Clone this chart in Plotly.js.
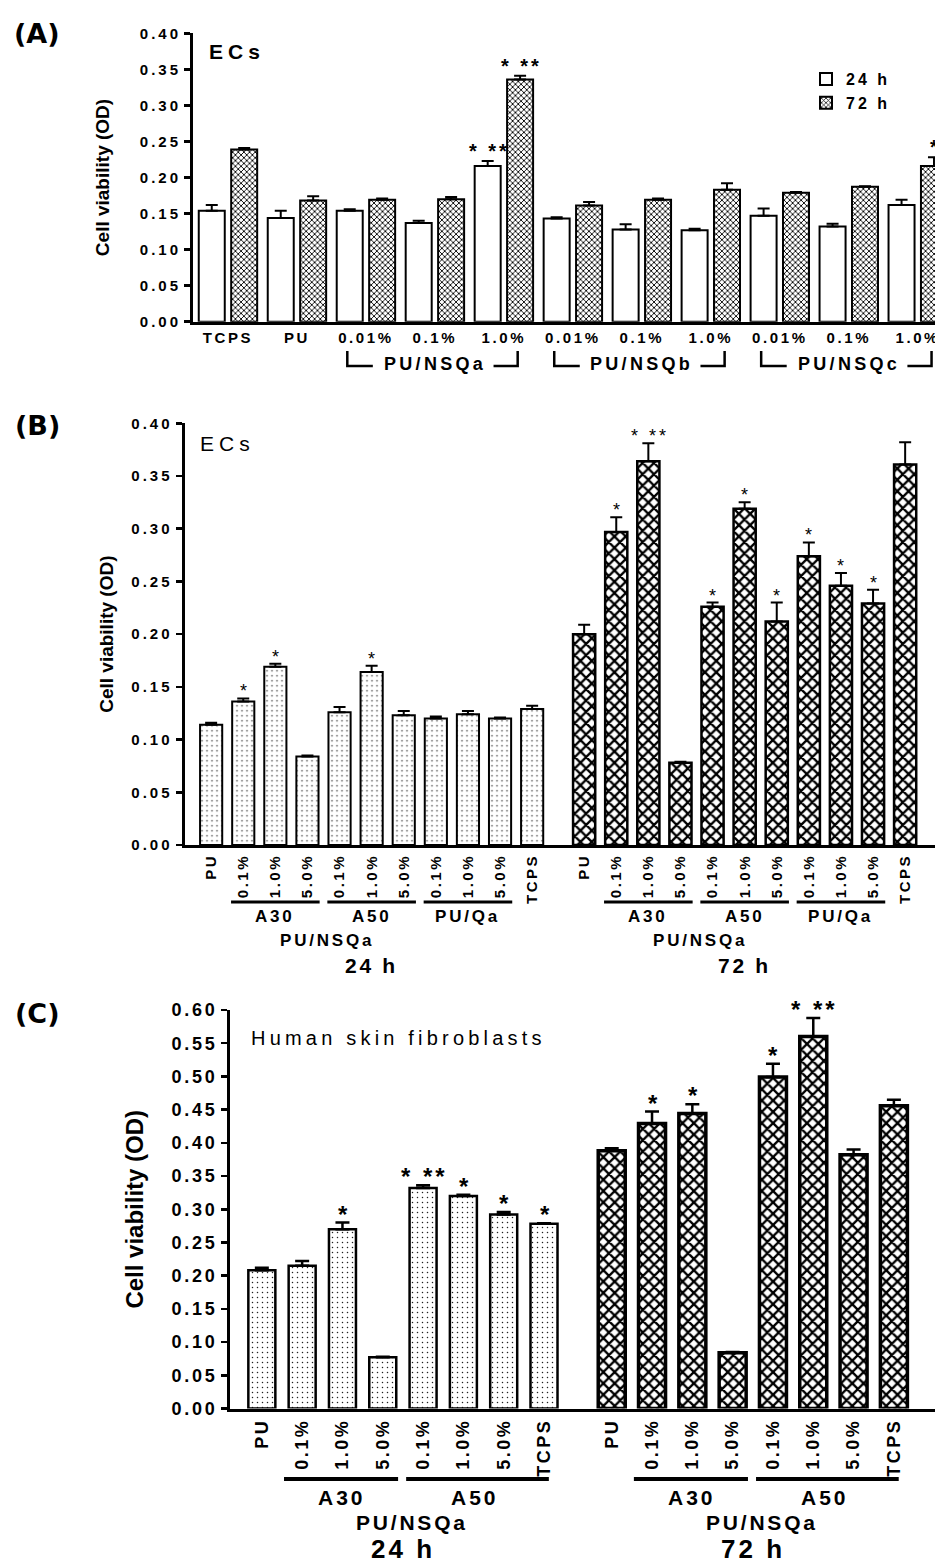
<!DOCTYPE html>
<html><head><meta charset="utf-8">
<script src="https://cdn.plot.ly/plotly-3.0.1.min.js"></script>
<style>html,body{margin:0;padding:0;background:#fff}</style>
</head><body>
<div id="chart" style="width:935px;height:1567px"></div>
<script>
// ---------------- Panel A data ----------------
const aCategories = ["TCPS","PU","0.01%","0.1%","1.0%","0.01%","0.1%","1.0%","0.01%","0.1%","1.0%"];
const aBrackets = ["PU/NSQa","PU/NSQb","PU/NSQc"];
const a24 = [0.154,0.144,0.154,0.137,0.216,0.143,0.128,0.127,0.147,0.132,0.162];
const a24Err = [0.008,0.010,0.002,0.003,0.007,0.002,0.007,0.002,0.010,0.004,0.007];
const a72 = [0.239,0.168,0.169,0.170,0.336,0.161,0.169,0.183,0.179,0.187,0.216];
const a72Err = [0.002,0.006,0.002,0.003,0.005,0.005,0.002,0.009,0.001,0.001,0.012];
const a24Stars = ["","","","","* **","","","","","",""];
const a72Stars = ["","","","","* **","","","","","","*"];
const yTicksAB = ["0.00","0.05","0.10","0.15","0.20","0.25","0.30","0.35","0.40"];

// ---------------- Panel B data ----------------
const bLabels = ["PU","0.1%","1.0%","5.0%","0.1%","1.0%","5.0%","0.1%","1.0%","5.0%","TCPS"];
const bSubgroups = ["A30","A50","PU/Qa"];
const b24 = [0.114,0.136,0.169,0.084,0.126,0.164,0.123,0.120,0.124,0.120,0.129];
const b24Err = [0.002,0.003,0.003,0.001,0.005,0.006,0.004,0.002,0.003,0.001,0.003];
const b72 = [0.200,0.297,0.364,0.078,0.226,0.319,0.212,0.274,0.246,0.229,0.361];
const b72Err = [0.009,0.014,0.017,0.001,0.004,0.006,0.018,0.013,0.012,0.013,0.021];
const b24Stars = ["","*","*","","","*","","","","",""];
const b72Stars = ["","*","* **","","*","*","*","*","*","*",""];

// ---------------- Panel C data ----------------
const cLabels = ["PU","0.1%","1.0%","5.0%","0.1%","1.0%","5.0%","TCPS"];
const cSubgroups = ["A30","A50"];
const c24 = [0.208,0.215,0.270,0.077,0.332,0.320,0.292,0.278];
const c24Err = [0.004,0.007,0.010,0.001,0.004,0.002,0.004,0.001];
const c72 = [0.388,0.429,0.444,0.084,0.499,0.560,0.382,0.456];
const c72Err = [0.004,0.018,0.014,0.001,0.020,0.028,0.008,0.009];
const c24Stars = ["","","*","","* **","*","*","*"];
const c72Stars = ["","*","*","","*","* **","",""];
const yTicksC = ["0.00","0.05","0.10","0.15","0.20","0.25","0.30","0.35","0.40","0.45","0.50","0.55","0.60"];

const timeLabels = ["24 h","72 h"];
const groupName = "PU/NSQa";
const yTitle = "Cell viability (OD)";

// ---------------- layout helpers ----------------
const W = 935, H = 1567;
const px = v => v / W;
const py = v => 1 - v / H;
const DJ = "DejaVu Sans";
const AR = "Liberation Sans";
const sp = (t, s) => '<span style="letter-spacing:' + s + 'px">' + t + '</span>';

// positions (layout only)
const aPos24 = a24.map((_, i) => i - 0.235);
const aPos72 = a72.map((_, i) => i + 0.235);
const bGap = 11.62;
const bPos24 = b24.map((_, i) => i);
const bPos72 = b72.map((_, i) => bGap + i);
const cGap = 8.68;
const cPos24 = c24.map((_, i) => i);
const cPos72 = c72.map((_, i) => cGap + i);

const zeros = n => new Array(n).fill(0);
function errBar(arr, th, w) {
  return {type: 'data', symmetric: false, array: arr, arrayminus: zeros(arr.length),
          color: '#000', thickness: th, width: w, visible: true};
}
const patA72 = {shape: 'x', size: 4, solidity: 0.4, fgcolor: '#000', bgcolor: '#fff'};
const patDots = {shape: '.', size: 5, solidity: 0.07, fgcolor: '#222', bgcolor: '#fff'};
const patCheck = {shape: 'x', size: 8, solidity: 0.5, fgcolor: '#000', bgcolor: '#fff'};

const traces = [
  {type: 'bar', name: sp(timeLabels[0], 3), x: aPos24, y: a24, width: 0.377, xaxis: 'x', yaxis: 'y',
   marker: {color: '#fff', line: {color: '#000', width: 2}}, error_y: errBar(a24Err, 2, 6), showlegend: true},
  {type: 'bar', name: sp(timeLabels[1], 3), x: aPos72, y: a72, width: 0.377, xaxis: 'x', yaxis: 'y',
   marker: {color: '#fff', pattern: patA72, line: {color: '#000', width: 2}}, error_y: errBar(a72Err, 2, 6), showlegend: true},
  {type: 'bar', name: 'B ' + timeLabels[0], x: bPos24, y: b24, width: 0.69, xaxis: 'x2', yaxis: 'y2',
   marker: {color: '#fff', pattern: patDots, line: {color: '#000', width: 2}}, error_y: errBar(b24Err, 2, 6), showlegend: false},
  {type: 'bar', name: 'B ' + timeLabels[1], x: bPos72, y: b72, width: 0.69, xaxis: 'x2', yaxis: 'y2',
   marker: {color: '#fff', pattern: patCheck, line: {color: '#000', width: 2.5}}, error_y: errBar(b72Err, 2, 6), showlegend: false},
  {type: 'bar', name: 'C ' + timeLabels[0], x: cPos24, y: c24, width: 0.67, xaxis: 'x3', yaxis: 'y3',
   marker: {color: '#fff', pattern: patDots, line: {color: '#000', width: 2.5}}, error_y: errBar(c24Err, 2.5, 7), showlegend: false},
  {type: 'bar', name: 'C ' + timeLabels[1], x: cPos72, y: c72, width: 0.67, xaxis: 'x3', yaxis: 'y3',
   marker: {color: '#fff', pattern: patCheck, line: {color: '#000', width: 3.5}}, error_y: errBar(c72Err, 2.5, 7), showlegend: false}
];

function yAx(domain, labels, fs, spacing, titleSize, standoff) {
  const vals = labels.map(Number);
  return {domain: domain, range: [0, vals[vals.length - 1]], tickvals: vals, ticktext: labels.map(t => sp(t, spacing)),
          ticks: 'outside', ticklen: 6, tickwidth: 2.5, tickcolor: '#000', showline: true, linewidth: 3, linecolor: '#000',
          showgrid: false, zeroline: false, tickfont: {family: AR, size: fs, weight: 'bold', color: '#000'},
          title: {text: yTitle, font: {family: AR, size: titleSize, weight: 'bold', color: '#000'}, standoff: standoff},
          automargin: false, fixedrange: true, ticklabeloverflow: 'allow'};
}
function xAx(domain, range, vals, text, fs, spacing, angle, anchor) {
  return {domain: domain, range: range, tickvals: vals, ticktext: text.map(t => sp(t, spacing)), tickangle: angle, ticks: '',
          showline: true, linewidth: 3, linecolor: '#000', showgrid: false, zeroline: false,
          tickfont: {family: AR, size: fs, weight: 'bold', color: '#000'}, anchor: anchor,
          automargin: false, fixedrange: true, ticklabeloverflow: 'allow'};
}

const annotations = [];
const shapes = [];
function note(text, x, y, xref, font, opts) {
  annotations.push(Object.assign({text: text, x: x, y: y, xref: xref, yref: 'paper', showarrow: false,
    xanchor: 'center', yanchor: 'middle', font: Object.assign({color: '#000'}, font)}, opts || {}));
}
function stars(pos, vals, errs, marks, xref, yref, size, weight, shift) {
  marks.forEach((m, i) => {
    if (!m) return;
    annotations.push({text: sp(m, 3), x: pos[i], y: vals[i] + errs[i], xref: xref, yref: yref, showarrow: false,
      xanchor: 'center', yanchor: 'bottom', yshift: shift, xshift: 1.5,
      font: {family: AR, size: size, weight: weight, color: '#000'}});
  });
}

// panel letters
note('(A)', px(37), py(34), 'paper', {family: DJ, size: 27, weight: 'bold'});
note('(B)', px(37), py(425), 'paper', {family: DJ, size: 27, weight: 'bold'});
note('(C)', px(37), py(1013), 'paper', {family: DJ, size: 27, weight: 'bold'});

// Panel A extras
note(sp('ECs', 5), px(207), py(51), 'paper', {family: AR, size: 21, weight: 'bold'}, {xanchor: 'left'});
stars(aPos24, a24, a24Err, a24Stars, 'x', 'y', 20, 'bold', -3);
stars(aPos72, a72, a72Err, a72Stars, 'x', 'y', 20, 'bold', -3);
aBrackets.forEach((g, k) => {
  const s = 2 + 3 * k, e = 4 + 3 * k;
  const yT = py(351), yB = py(366);
  shapes.push({type: 'path', xref: 'x', yref: 'paper', line: {color: '#000', width: 2.5},
    path: `M${s - 0.27},${yT} L${s - 0.27},${yB} L${s + 0.1},${yB}`});
  shapes.push({type: 'path', xref: 'x', yref: 'paper', line: {color: '#000', width: 2.5},
    path: `M${e - 0.15},${yB} L${e + 0.2},${yB} L${e + 0.2},${yT}`});
  note(sp(g, 3.3), s + 1, py(364), 'x', {family: AR, size: 18, weight: 'bold'});
});

// Panel B extras
note(sp('ECs', 5), px(198), py(443), 'paper', {family: AR, size: 21}, {xanchor: 'left'});
stars(bPos24, b24, b24Err, b24Stars, 'x2', 'y2', 18, 'normal', -5);
stars(bPos72, b72, b72Err, b72Stars, 'x2', 'y2', 18, 'normal', -5);
[bPos24, bPos72].forEach((pos, t) => {
  bSubgroups.forEach((g, k) => {
    const s = pos[1 + 3 * k], e = pos[3 + 3 * k];
    shapes.push({type: 'line', xref: 'x2', yref: 'paper', x0: s - 0.38, x1: e + 0.38, y0: py(902), y1: py(902),
      line: {color: '#000', width: 3}});
    note(sp(g, 2.8), (s + e) / 2, py(916), 'x2', {family: AR, size: 17, weight: 'bold'});
  });
  note(sp(groupName, 2.8), (pos[2] + pos[5]) / 2 + 0.1, py(940), 'x2', {family: AR, size: 17, weight: 'bold'});
  note(sp(timeLabels[t], 2.7), (pos[0] + pos[10]) / 2, py(965), 'x2', {family: AR, size: 21, weight: 'bold'});
});

// Panel C extras
note(sp('Human skin fibroblasts', 4.2), px(249), py(1038), 'paper', {family: AR, size: 20}, {xanchor: 'left'});
stars(cPos24, c24, c24Err, c24Stars, 'x3', 'y3', 24, 'bold', -7);
stars(cPos72, c72, c72Err, c72Stars, 'x3', 'y3', 24, 'bold', -7);
[cPos24, cPos72].forEach((pos, t) => {
  const spans = [[1, 3, -0.45, 0.38], [4, 7, -0.42, 0.12]];
  spans.forEach((r, k) => {
    const s = pos[r[0]], e = pos[r[1]];
    shapes.push({type: 'line', xref: 'x3', yref: 'paper', x0: s + r[2], x1: e + r[3], y0: py(1479), y1: py(1479),
      line: {color: '#000', width: 4}});
    note(sp(cSubgroups[k], 3), k === 0 ? (s + e) / 2 : pos[5] + 0.28, py(1497), 'x3', {family: AR, size: 21, weight: 'bold'});
  });
  note(sp(groupName, 2.8), pos[3] + 0.72, py(1522), 'x3', {family: AR, size: 21, weight: 'bold'});
  note(sp(timeLabels[t], 3), (pos[0] + pos[7]) / 2, py(1549), 'x3', {family: AR, size: 26, weight: 'bold'});
});

const layout = {
  width: W, height: H, margin: {l: 0, r: 0, t: 0, b: 0, pad: 0},
  paper_bgcolor: '#fff', plot_bgcolor: 'rgba(0,0,0,0)', barmode: 'overlay', hovermode: false,
  showlegend: true,
  legend: {x: px(806), y: py(62), xanchor: 'left', yanchor: 'top', bgcolor: 'rgba(0,0,0,0)',
           font: {family: AR, size: 16, weight: 'bold', color: '#000'}, tracegroupgap: 0, itemwidth: 30},
  xaxis: xAx([px(193), 1], [-0.507, 10.25], aCategories.map((_, i) => i), aCategories, 15, 2.6, 0, 'y'),
  yaxis: yAx([py(321.7), py(33.3)], yTicksAB, 15, 3, 19, 26),
  xaxis2: xAx([px(184.5), 1], [-0.83, 22.55], bPos24.concat(bPos72), bLabels.concat(bLabels), 15, 2.5, -90, 'y2'),
  yaxis2: yAx([py(845), py(423.3)], yTicksAB, 15, 3, 19, 13),
  xaxis3: xAx([px(230), 1], [-0.79, 16.7], cPos24.concat(cPos72), cLabels.concat(cLabels), 18, 2.5, -90, 'y3'),
  yaxis3: yAx([py(1408.5), py(1010)], yTicksC, 18, 2.7, 24, 22),
  annotations: annotations,
  shapes: shapes
};
layout.yaxis.anchor = 'x';
layout.yaxis2.anchor = 'x2';
layout.yaxis3.anchor = 'x3';

Plotly.newPlot('chart', traces, layout, {staticPlot: true, displayModeBar: false});
</script>
</body></html>
